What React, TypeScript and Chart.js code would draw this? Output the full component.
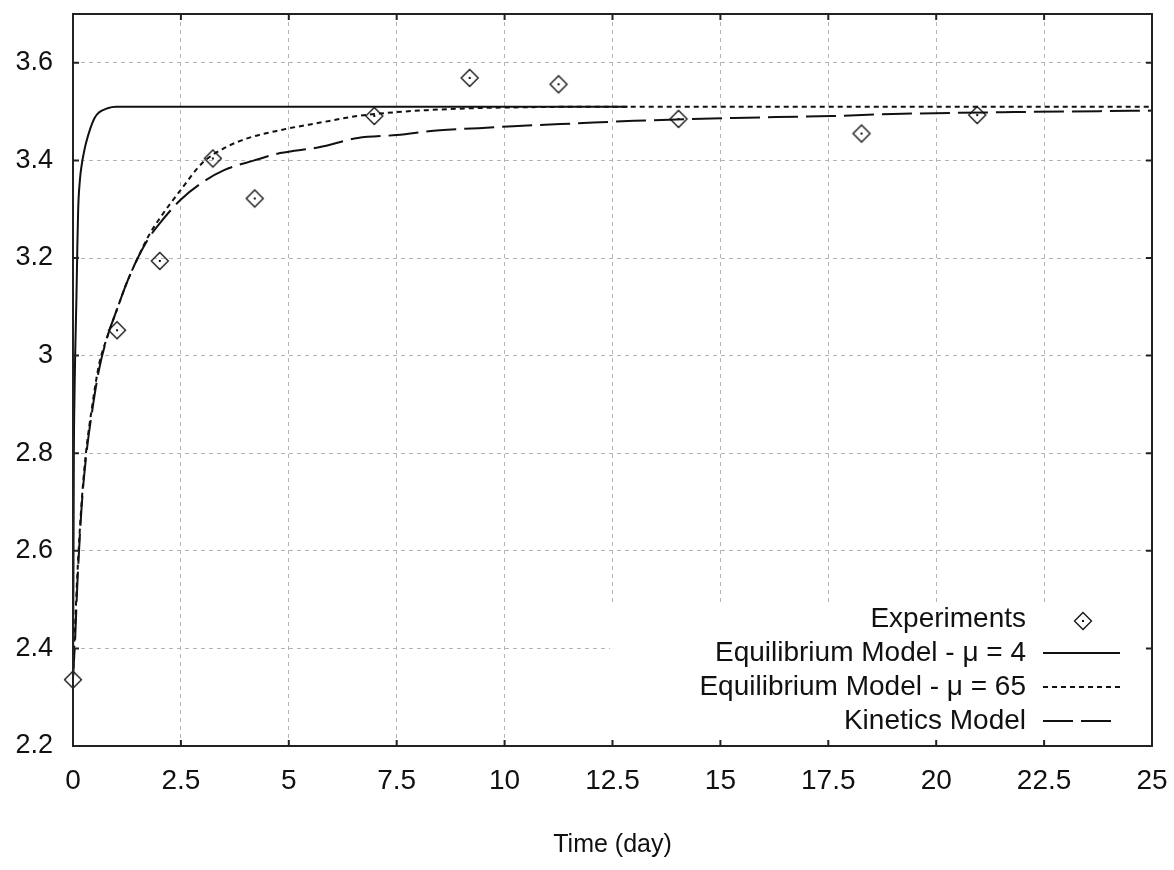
import React, { useEffect, useRef } from 'react';
import { Chart, registerables } from 'chart.js';

Chart.register(...registerables);

const FONT = '"Liberation Sans", Arial, Helvetica, sans-serif';

// Axis ticks
const xTicks = [0, 2.5, 5, 7.5, 10, 12.5, 15, 17.5, 20, 22.5, 25];
const yTicks = [2.2, 2.4, 2.6, 2.8, 3, 3.2, 3.4, 3.6];
const xTitle = 'Time (day)';

// Experiments
const expX = [0, 1.02, 2.01, 3.24, 4.21, 6.98, 9.19, 11.25, 14.03, 18.27, 20.95];
const expY = [2.336, 3.052, 3.194, 3.404, 3.322, 3.491, 3.569, 3.556, 3.485, 3.455, 3.493];

// Equilibrium Model - mu = 4
const eq4X = [0, 0.01, 0.02, 0.035, 0.05, 0.08, 0.1, 0.12, 0.16, 0.2, 0.25, 0.3, 0.4, 0.5, 0.6, 0.8, 1.0, 12.85];
const eq4Y = [2.34, 2.55, 2.8, 2.92, 3.0, 3.12, 3.22, 3.3, 3.36, 3.39, 3.415, 3.435, 3.465, 3.487, 3.498, 3.507, 3.51, 3.51];

// Equilibrium Model - mu = 65
const eq65X = [0, 0.05, 0.1, 0.2, 0.3, 0.45, 0.6, 0.8, 1.0, 1.25, 1.5, 1.75, 2.0, 2.5, 3.0, 3.5, 4.0, 4.8, 5.7, 6.6, 7.5, 8.2, 9.3, 10.5, 12, 25];
const eq65Y = [2.34, 2.45, 2.55, 2.7, 2.8, 2.9, 2.98, 3.04, 3.09, 3.15, 3.2, 3.245, 3.28, 3.34, 3.395, 3.425, 3.444, 3.462, 3.477, 3.491, 3.499, 3.503, 3.507, 3.509, 3.51, 3.51];

// Kinetics Model
const kinX = [0, 0.05, 0.1, 0.2, 0.3, 0.45, 0.6, 0.8, 1.0, 1.25, 1.5, 1.75, 2.0, 2.5, 3.0, 3.5, 4.2, 4.8, 5.7, 6.6, 7.5, 8.5, 9.4, 10.2, 11.7, 13, 15.3, 17.6, 19, 21.8, 25];
const kinY = [2.34, 2.42, 2.53, 2.69, 2.79, 2.89, 2.97, 3.04, 3.09, 3.15, 3.2, 3.24, 3.27, 3.32, 3.355, 3.38, 3.4, 3.415, 3.427, 3.446, 3.452, 3.462, 3.466, 3.47, 3.476, 3.481, 3.487, 3.491, 3.495, 3.499, 3.502];

const legendLabels = ['Experiments', 'Equilibrium Model - \u03bc = 4', 'Equilibrium Model - \u03bc = 65', 'Kinetics Model'];

const toPts = (xs: number[], ys: number[]) => xs.map((x, i) => ({ x, y: ys[i] }));

function drawDiamond(g: CanvasRenderingContext2D, cx: number, cy: number) {
  g.save();
  g.setLineDash([]);
  g.strokeStyle = '#111';
  g.lineWidth = 1.3;
  g.beginPath();
  g.moveTo(cx, cy - 8.5);
  g.lineTo(cx + 8.5, cy);
  g.lineTo(cx, cy + 8.5);
  g.lineTo(cx - 8.5, cy);
  g.closePath();
  g.stroke();
  g.fillStyle = '#111';
  g.fillRect(cx - 1, cy - 1, 2, 2);
  g.restore();
}

const LINE_STYLES = [
  { dash: [] as number[], width: 2 },
  { dash: [5, 4], width: 2 },
  { dash: [30, 8], width: 2 },
];

const legendPlugin = {
  id: 'customLegend',
  afterDatasetsDraw(chart: any) {
    const { ctx, chartArea: a } = chart;
    ctx.save();
    ctx.fillStyle = '#ffffff';
    const boxLeft = a.right - 542;
    const boxTop = a.bottom - 143;
    ctx.fillRect(boxLeft, boxTop, a.right - boxLeft, a.bottom - boxTop);
    ctx.font = `28px ${FONT}`;
    ctx.fillStyle = '#111';
    ctx.textAlign = 'right';
    ctx.textBaseline = 'middle';
    const rows = [127, 93, 59, 25];
    const textX = a.right - 126;
    const symL = a.right - 109;
    legendLabels.forEach((lab, i) => {
      const y = a.bottom - rows[i];
      ctx.fillText(lab, textX, y);
      if (i === 0) {
        drawDiamond(ctx, a.right - 69, y + 2);
      } else {
        const st = LINE_STYLES[i - 1];
        ctx.save();
        ctx.strokeStyle = '#111';
        ctx.lineWidth = st.width;
        ctx.setLineDash(st.dash);
        ctx.beginPath();
        ctx.moveTo(symL, y);
        ctx.lineTo(a.right - (i === 3 ? 40 : 32), y);
        ctx.stroke();
        ctx.restore();
      }
    });
    ctx.restore();
  },
  afterDraw(chart: any) {
    const { ctx, chartArea: a, scales } = chart;
    ctx.save();
    ctx.setLineDash([]);
    ctx.strokeStyle = '#222';
    ctx.lineWidth = 2;
    ctx.strokeRect(a.left, a.top, a.right - a.left, a.bottom - a.top);
    ctx.beginPath();
    const tl = 6;
    xTicks.forEach((v) => {
      const px = scales.x.getPixelForValue(v);
      ctx.moveTo(px, a.bottom);
      ctx.lineTo(px, a.bottom - tl);
      ctx.moveTo(px, a.top);
      ctx.lineTo(px, a.top + tl);
    });
    yTicks.forEach((v) => {
      const py = scales.y.getPixelForValue(v);
      ctx.moveTo(a.left, py);
      ctx.lineTo(a.left + tl, py);
      ctx.moveTo(a.right, py);
      ctx.lineTo(a.right - tl, py);
    });
    ctx.stroke();
    ctx.restore();
  },
};

const zeroPad = (s: any) => {
  s.paddingTop = 0;
  s.paddingBottom = 0;
  s.paddingLeft = 0;
  s.paddingRight = 0;
};

export default function App() {
  const ref = useRef<HTMLCanvasElement | null>(null);

  useEffect(() => {
    if (!ref.current) return;
    const marker = document.createElement('canvas');
    marker.width = 22;
    marker.height = 22;
    drawDiamond(marker.getContext('2d')!, 11, 11);

    const lineDs = (label: string, xs: number[], ys: number[], idx: number) => ({
      label,
      data: toPts(xs, ys),
      showLine: true,
      borderColor: '#111',
      borderWidth: LINE_STYLES[idx].width,
      borderDash: LINE_STYLES[idx].dash,
      pointRadius: 0,
      pointHoverRadius: 0,
      fill: false,
      cubicInterpolationMode: 'monotone' as const,
    });

    const chart = new Chart(ref.current, {
      type: 'scatter',
      data: {
        datasets: [
          {
            label: legendLabels[0],
            data: toPts(expX, expY),
            pointStyle: marker as any,
            pointRadius: 9,
            showLine: false,
            clip: false as any,
          },
          lineDs(legendLabels[1], eq4X, eq4Y, 0),
          lineDs(legendLabels[2], eq65X, eq65Y, 1),
          lineDs(legendLabels[3], kinX, kinY, 2),
        ],
      },
      options: {
        animation: false,
        responsive: false,
        devicePixelRatio: 1,
        layout: { padding: { top: 14, right: 22, left: 0, bottom: 0 } },
        plugins: { legend: { display: false }, tooltip: { enabled: false } },
        scales: {
          x: {
            type: 'linear',
            min: 0,
            max: 25,
            afterBuildTicks: (s: any) => {
              s.ticks = xTicks.map((v) => ({ value: v }));
            },
            afterFit: (s: any) => {
              s.height = 124;
              zeroPad(s);
            },
            ticks: {
              color: '#111',
              font: { family: FONT, size: 28 },
              padding: 18,
              maxRotation: 0,
              autoSkip: false,
              callback: (v: any) => String(v),
            },
            grid: { color: '#b4b4b4', lineWidth: 1, drawTicks: false },
            border: { display: false, dash: [4, 4] },
            title: {
              display: true,
              text: xTitle,
              color: '#111',
              font: { family: FONT, size: 25 },
              padding: { top: 0, bottom: 10 },
            },
          },
          y: {
            type: 'linear',
            min: 2.2,
            max: 3.7,
            afterBuildTicks: (s: any) => {
              s.ticks = yTicks.map((v) => ({ value: v }));
            },
            afterFit: (s: any) => {
              s.width = 73;
              zeroPad(s);
            },
            ticks: {
              color: '#111',
              font: { family: FONT, size: 27 },
              padding: 20,
              autoSkip: false,
              callback: (v: any) => String(Number(Number(v).toFixed(1))),
            },
            grid: { color: '#b4b4b4', lineWidth: 1, drawTicks: false },
            border: { display: false, dash: [4, 4] },
          },
        },
      },
      plugins: [legendPlugin],
    });
    return () => chart.destroy();
  }, []);

  return (
    <div style={{ position: 'absolute', left: 0, top: 0, width: 1174, height: 870, background: '#fff' }}>
      <canvas ref={ref} width={1174} height={870} style={{ width: 1174, height: 870, display: 'block' }} />
    </div>
  );
}
